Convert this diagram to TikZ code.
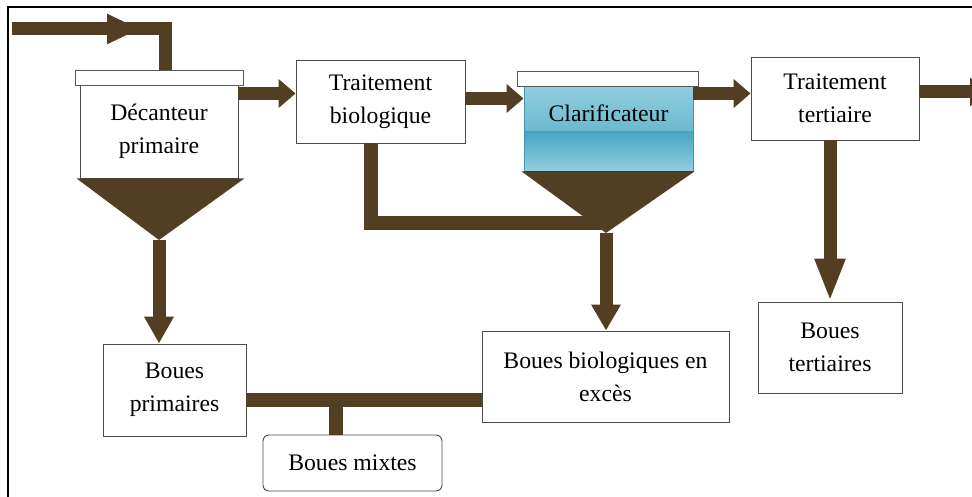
\documentclass[tikz,border=0pt]{standalone}
\usepackage{fontspec}
\setmainfont{Liberation Serif}
\usetikzlibrary{arrows.meta}

\definecolor{sludge}{RGB}{82,63,35}
\definecolor{clarlight}{RGB}{145,207,222}
\definecolor{clardark}{RGB}{72,166,197}
\definecolor{claredge}{RGB}{70,150,175}

\begin{document}
\begin{tikzpicture}[
  x=1pt, y=-1pt,
  font=\fontsize{23.7}{33}\selectfont,
  box/.style={draw=black!70, line width=0.9pt, fill=white, align=center, inner sep=0pt},
  lid/.style={draw=black!65, line width=0.9pt, fill=white, inner sep=0pt, minimum height=15pt},
  water/.style={draw=claredge, line width=0.9pt, inner sep=0pt,
    path picture={
      \shade[top color=clarlight, bottom color=clardark]
        (path picture bounding box.north west) rectangle ([yshift=-46pt]path picture bounding box.north east);
      \shade[top color=clardark, bottom color=clarlight]
        ([yshift=-46pt]path picture bounding box.north west) rectangle (path picture bounding box.south east);
    }},
  pipe/.style={draw=sludge, line width=13pt},
  flow/.style={pipe, -{Triangle[length=#1, width=28pt]}},
  flow/.default=17pt
]
\useasboundingbox (0,0) rectangle (972,497);
\clip (0,0) rectangle (972,497);

% --- frame ---
\draw[line width=1.6pt] (8,505) -- (8,7) -- (980,7);

% --- treatment units ---
\node[box, minimum width=158pt, minimum height=93pt] (dec) at (159,131.5) {Décanteur\\primaire};
\node[lid, minimum width=168pt] (declid) at (159,77.5) {};
\node[box, minimum width=169pt, minimum height=83pt] (bio) at (380.5,101.5) {Traitement\\biologique};
\node[water, minimum width=169pt, minimum height=85pt,
  label={[yshift=15pt]center:Clarificateur}] (clar) at (608.5,128.5) {};
\draw[black!80, line width=1.6pt] (clar.south west) -- (clar.south east);
\node[lid, minimum width=181pt] (clarlid) at (607.5,78.5) {};
\node[box, minimum width=168pt, minimum height=83pt] (tert) at (835,98.5) {Traitement\\tertiaire};

% --- sludge boxes ---
\node[box, minimum width=143pt, minimum height=92pt] (bp) at (174.5,390) {Boues\\primaires};
\node[box, minimum width=247pt, minimum height=91pt] (bb) at (605.5,376.5) {Boues biologiques en\\excès};
\node[box, minimum width=144pt, minimum height=91pt] (bt) at (830,347.5) {Boues\\tertiaires};
\node[box, rounded corners=6pt, minimum width=179pt, minimum height=56pt] (bm) at (352.5,463) {Boues mixtes};

% --- cones ---
\coordinate (decapex) at (159,240);
\coordinate (clarapex) at (606,233);
\fill[sludge] ([xshift=-3pt]dec.south west) -- ([xshift=6pt]dec.south east) -- (decapex) -- cycle;
\fill[sludge] ([xshift=-2pt]clar.south west) -- ([xshift=1pt]clar.south east) -- (clarapex) -- cycle;

% --- water line ---
\coordinate (in) at (12,29);
\coordinate (inhead) at (140,29);
\coordinate (out) at (987,92);
\draw[pipe] (in) -| ([xshift=6pt]declid.north);
\draw[flow=33pt] (in) -- (inhead);
\draw[flow] ([yshift=8pt]dec.east |- bio.west) -- ([yshift=8pt]bio.west);
\draw[flow] ([yshift=3pt]bio.east) -- ([yshift=3pt]bio.east -| clar.west);
\draw[flow] ([yshift=5pt]tert.west -| clar.east) -- ([yshift=5pt]tert.west);
\draw[flow] (tert.east |- out) -- (out);

% --- sludge lines ---
\coordinate (join) at (606,223);
\draw[pipe, line width=14pt] ([xshift=-10pt]bio.south) |- (join);
\draw[flow=27pt] (decapex) -- (decapex |- bp.north);
\draw[flow=26pt] (clarapex) -- (clarapex |- bb.north);
\draw[flow=43pt] (bt.north |- tert.south) -- (bt.north);
\draw[pipe, line width=14pt] ([yshift=-10pt]bp.east) -- coordinate[pos=0.38] (tee) ([yshift=-10pt]bp.east -| bb.west);
\draw[pipe, line width=14pt] (tee) -- (tee |- bm.north);

\end{tikzpicture}
\end{document}
